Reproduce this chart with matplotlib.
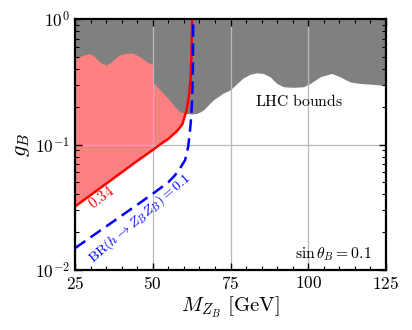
import numpy as np
import matplotlib
matplotlib.use("Agg")
import matplotlib.pyplot as plt

plt.rcParams['mathtext.fontset'] = 'cm'
plt.rcParams['font.family'] = ['cmr10', 'DejaVu Serif']
plt.rcParams['axes.formatter.use_mathtext'] = True

# LHC bound (upper gray region boundary)
lhc_m = [25.0, 25.3, 27.7, 29.8, 31.4, 33.0, 35.0, 36.8, 38.9, 41.1, 43.7, 45.9, 48.1, 49.7, 50.0,
         50.01, 51.8, 53.3, 55.0, 57.2, 58.8, 60.7, 62.6, 64.5, 66.2, 69.4, 72.6, 74.8, 77.0, 79.0,
         81.3, 83.4, 85.5, 87.7, 89.9, 92.0, 95.2, 98.4, 100.6, 103.8, 107.5, 110.2, 113.4, 116.6,
         120.9, 125.0]
lhc_g = [0.495, 0.491, 0.516, 0.533, 0.501, 0.452, 0.430, 0.457, 0.511, 0.533, 0.536, 0.501, 0.457, 0.436, 0.436,
         0.315, 0.282, 0.257, 0.232, 0.199, 0.182, 0.177, 0.175, 0.178, 0.188, 0.226, 0.257, 0.272, 0.305, 0.339,
         0.364, 0.373, 0.369, 0.347, 0.307, 0.289, 0.286, 0.289, 0.307, 0.347, 0.369, 0.347, 0.316, 0.307,
         0.302, 0.295]

# contour 0.34 (red)
red_m = [25.0, 30.0, 35.0, 40.0, 45.0, 50.0, 52.3, 55.0, 57.8, 59.5, 60.9, 61.75, 62.2, 62.4, 62.6, 62.65]
red_g = [0.032, 0.0395, 0.0487, 0.060, 0.074, 0.0905, 0.100, 0.111, 0.128, 0.145, 0.188, 0.256, 0.347, 0.471, 0.80, 1.0]

# BR(h -> Z_B Z_B) = 0.1 (blue dashed)
blue_m = [25.0, 30.0, 35.0, 40.0, 45.0, 50.0, 55.0, 57.2, 59.0, 60.4, 61.4, 62.0, 62.4, 62.7, 62.9, 63.0]
blue_g = [0.0149, 0.0182, 0.0222, 0.0271, 0.0331, 0.0405, 0.0500, 0.0571, 0.066, 0.0752, 0.096, 0.131, 0.17, 0.25, 0.40, 1.0]

fig = plt.figure(figsize=(4.12, 3.30), dpi=100)
ax = fig.add_axes([0.182, 0.182, 0.755, 0.760])

ax.set_xscale('linear')
ax.set_yscale('log')
ax.set_xlim(25, 125)
ax.set_ylim(1e-2, 1)

# pink region above red contour
ax.fill(list(red_m) + [25.0], list(red_g) + [1.0], color='#ff8080', lw=0, zorder=1)
# gray LHC region
ax.fill_between(lhc_m, lhc_g, 1.0, color='#808080', lw=0, zorder=2)

ax.plot(red_m, red_g, color='red', lw=1.8, zorder=4)
ax.plot(blue_m, blue_g, color='blue', lw=1.8, ls=(0, (5.0, 2.6)), zorder=4)

ax.set_xticks([25, 50, 75, 100, 125])
ax.set_xticks(np.arange(25, 126, 5), minor=True)
ax.grid(True, which='major', color='#b8b8b8', lw=0.9, zorder=3)
ax.set_axisbelow(False)

ax.tick_params(which='both', direction='in', top=True, right=True, labelsize=12.5)
ax.tick_params(which='major', length=5, width=1.0)
ax.tick_params(which='minor', length=3, width=0.8)
for s in ax.spines.values():
    s.set_linewidth(1.6)
    s.set_zorder(6)

ax.set_xlabel(r'$M_{Z_B}\ \mathrm{[GeV]}$', fontsize=15, labelpad=2)
ax.set_ylabel(r'$g_B$', fontsize=16, labelpad=2)

ax.text(97.0, 0.222, r'$\mathrm{LHC\ bounds}$', fontsize=11.3, ha='center', va='center', zorder=5)
ax.text(120.5, 0.0134, r'$\sin\theta_B = 0.1$', fontsize=11.3, ha='right', va='center', zorder=5)
ax.text(30.8, 0.0302, r'$0.34$', fontsize=10.8, color='red', rotation=37, ha='left', va='baseline',
        rotation_mode='anchor', zorder=5)
ax.text(30.6, 0.0114, r'$\mathrm{BR}(h\to Z_B Z_B)=0.1$', fontsize=10.2, color='blue', rotation=40.5,
        ha='left', va='baseline', rotation_mode='anchor', zorder=5)

fig.savefig('out.png', dpi=100)
